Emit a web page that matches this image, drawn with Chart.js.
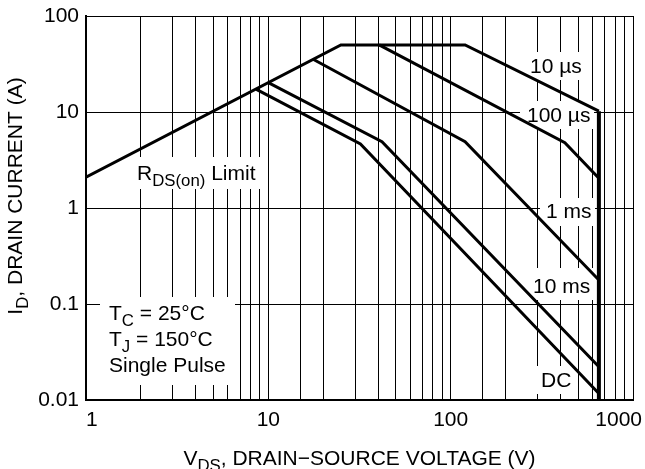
<!DOCTYPE html>
<html>
<head>
<meta charset="utf-8">
<script src="https://cdn.jsdelivr.net/npm/chart.js@4.4.1/dist/chart.umd.min.js"></script>
<style>
  html, body { margin: 0; padding: 0; background: #fff; }
  canvas { display: block; }
</style>
</head>
<body>
<canvas id="soa" width="645" height="469"></canvas>
<script>
// safe operating area curves (V, A)
var v10us = [1, 25, 120, 650];
var i10us = [2.09, 50, 50, 10.2];
var v100us = [40.5, 423, 650];
var i100us = [50, 4.8, 2.04];
var v1ms = [17.6, 120, 650];
var i1ms = [35.4, 4.9, 0.178];
var v10ms = [10, 42, 650];
var i10ms = [20.2, 4.9, 0.0222];
var vDC = [8.6, 32, 650];
var iDC = [17.2, 4.65, 0.0117];
var vLimit = [650, 650];
var iLimit = [10.2, 0.01];

var xLabels = [1, 10, 100];
var xLastLabel = 1000;
var yLabels = [0.01, 0.1, 1, 10, 100];

var FONT = '"Liberation Sans", Arial, Helvetica, sans-serif';
var FS = 21;

function pts(xs, ys) {
    return xs.map(function (x, i) { return { x: x, y: ys[i] }; });
}

function isDecade(v) {
    var l = Math.log10(v);
    return Math.abs(l - Math.round(l)) < 1e-9;
}

function curve(xs, ys, w) {
    return {
        data: pts(xs, ys),
        showLine: true,
        borderColor: '#000',
        borderWidth: w,
        borderJoinStyle: 'miter',
        pointRadius: 0,
        fill: false,
        tension: 0
    };
}

// text with subscripts: parts = [[text, isSub], ...]
function richWidth(ctx, parts, size) {
    var w = 0;
    parts.forEach(function (p) {
        ctx.font = (p[1] ? size * 0.8 : size) + 'px ' + FONT;
        w += ctx.measureText(p[0]).width;
    });
    return w;
}

function drawRich(ctx, parts, x, y, size) {
    var cx = x;
    parts.forEach(function (p) {
        var s = p[1] ? size * 0.8 : size;
        ctx.font = s + 'px ' + FONT;
        ctx.fillText(p[0], cx, y + (p[1] ? size * 0.28 : 0));
        cx += ctx.measureText(p[0]).width;
    });
}

var notes = [
    { lines: [[['10 \u00b5s']]], x: 530, y: 73, box: [524, 52, 66, 28] },
    { lines: [[['100 \u00b5s']]], x: 527, y: 122, box: [520, 101, 74, 28] },
    { lines: [[['1 ms']]], x: 546, y: 218, box: [540, 198, 55, 28] },
    { lines: [[['10 ms']]], x: 533, y: 293, box: [527, 268, 68, 32] },
    { lines: [[['DC']]], x: 541, y: 387, box: [535, 366, 42, 28] },
    { lines: [[['R'], ['DS(on)', true], [' Limit']]], x: 137, y: 180, box: [131, 157, 134, 32] },
    { lines: [
        [['T'], ['C', true], [' = 25\u00b0C']],
        [['T'], ['J', true], [' = 150\u00b0C']],
        [['Single Pulse']]
      ], x: 109, y: 320, box: [100, 297, 135, 88] }
];

var notesPlugin = {
    id: 'notes',
    beforeDatasetsDraw: function (chart) {
        var ctx = chart.ctx;
        ctx.save();
        notes.forEach(function (n) {
            ctx.fillStyle = '#fff';
            ctx.fillRect(n.box[0], n.box[1], n.box[2], n.box[3]);
            ctx.fillStyle = '#000';
            ctx.textBaseline = 'alphabetic';
            ctx.textAlign = 'left';
            n.lines.forEach(function (parts, k) {
                drawRich(ctx, parts, n.x, n.y + k * 26, FS);
            });
        });
        ctx.restore();
    },
    afterDraw: function (chart) {
        var ctx = chart.ctx;
        var area = chart.chartArea;
        ctx.save();
        ctx.fillStyle = '#000';
        ctx.textBaseline = 'alphabetic';
        ctx.textAlign = 'left';
        var xt = [['V'], ['DS', true], [', DRAIN\u2212SOURCE VOLTAGE (V)']];
        var w = richWidth(ctx, xt, FS);
        drawRich(ctx, xt, (area.left + area.right) / 2 - w / 2, 465, FS);

        var yt = [['I'], ['D', true], [', DRAIN CURRENT (A)']];
        var wy = richWidth(ctx, yt, FS);
        ctx.translate(22, 196);
        ctx.rotate(-Math.PI / 2);
        drawRich(ctx, yt, -wy / 2, 0, FS);
        ctx.restore();
    }
};

new Chart(document.getElementById('soa'), {
    type: 'scatter',
    data: {
        datasets: [
            curve(v10us, i10us, 3),
            curve(v100us, i100us, 3),
            curve(v1ms, i1ms, 3),
            curve(v10ms, i10ms, 3),
            curve(vDC, iDC, 3),
            curve(vLimit, iLimit, 4)
        ]
    },
    options: {
        responsive: false,
        animation: false,
        events: [],
        layout: { padding: { top: 16, right: 12, left: 0, bottom: 0 } },
        plugins: { legend: { display: false }, tooltip: { enabled: false } },
        scales: {
            x: {
                type: 'logarithmic',
                position: 'bottom',
                weight: 1,
                min: 1,
                max: 1000,
                grid: { color: '#000', lineWidth: 1, drawTicks: false },
                border: { color: '#000', width: 2 },
                ticks: {
                    autoSkip: false,
                    maxRotation: 0,
                    minRotation: 0,
                    align: 'inner',
                    padding: 8,
                    color: '#000',
                    font: { family: FONT, size: FS },
                    callback: function (v) { return xLabels.indexOf(v) >= 0 ? String(v) : ''; }
                },
                afterFit: function (s) { s.height = 69; s.paddingLeft = 0; s.paddingRight = 0; }
            },
            // second bottom axis only carries the "1000" label, pulled in from the edge
            x2: {
                type: 'logarithmic',
                position: 'bottom',
                weight: 0,
                min: 1,
                max: 1000,
                grid: { display: false, drawTicks: false },
                border: { display: false },
                ticks: {
                    autoSkip: false,
                    maxRotation: 0,
                    minRotation: 0,
                    mirror: true,
                    align: 'end',
                    labelOffset: 9,
                    padding: -33,
                    color: '#000',
                    font: { family: FONT, size: FS },
                    callback: function (v) { return v === xLastLabel ? String(v) : ''; }
                },
                afterFit: function (s) { s.height = 0; s.paddingLeft = 0; s.paddingRight = 0; }
            },
            y: {
                type: 'logarithmic',
                min: 0.01,
                max: 100,
                grid: {
                    drawTicks: false,
                    lineWidth: 1,
                    color: function (c) { return c.tick && isDecade(c.tick.value) ? '#000' : 'rgba(0,0,0,0)'; }
                },
                border: { color: '#000', width: 2 },
                ticks: {
                    autoSkip: false,
                    padding: 7,
                    color: '#000',
                    font: { family: FONT, size: FS },
                    callback: function (v) {
                        for (var i = 0; i < yLabels.length; i++) {
                            if (Math.abs(v - yLabels[i]) < yLabels[i] * 1e-6) return String(yLabels[i]);
                        }
                        return '';
                    }
                },
                afterFit: function (s) { s.width = 86; s.paddingTop = 0; s.paddingBottom = 0; }
            }
        }
    },
    plugins: [notesPlugin]
});
</script>
</body>
</html>
